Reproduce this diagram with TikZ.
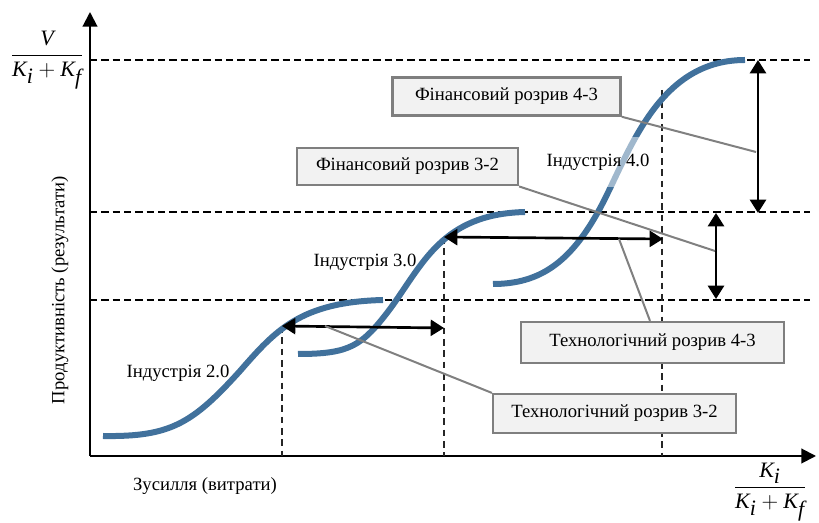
\documentclass[tikz,border=0pt]{standalone}
\usepackage{fontspec}
\setmainfont{Liberation Serif}
\usetikzlibrary{arrows.meta}

\definecolor{curveblue}{HTML}{41719C}
\definecolor{boxfill}{HTML}{F2F2F2}
\definecolor{boxline}{HTML}{7F7F7F}
\definecolor{leader}{HTML}{808080}

\tikzset{
  axis/.style={line width=1.5pt, -{Triangle[width=11pt,length=11pt]}},
  level/.style={line width=1.4pt, dash pattern=on 5.5pt off 3pt},
  drop/.style={line width=0.9pt, dash pattern=on 5pt off 3.5pt, black!85},
  scurve/.style={line width=4.5pt, curveblue},
  gap/.style={line width=2pt, {Triangle[width=12pt,length=10pt]}-{Triangle[width=12pt,length=10pt]}},
  leaderline/.style={line width=1.5pt, leader},
  callout/.style={draw=boxline, line width=1.9pt, fill=boxfill, inner sep=0pt,
    font=\fontsize{14}{16}\selectfont},
  curvelabel/.style={font=\fontsize{14}{16}\selectfont, inner sep=1pt},
  veil/.style={fill=white, fill opacity=0.5, text opacity=1, minimum height=37pt, inner xsep=2pt},
  plainlabel/.style={font=\fontsize{14}{16}\selectfont},
  frac/.style={font=\fontsize{16.5}{19}\selectfont, inner sep=0pt}
}

\begin{document}
\begin{tikzpicture}[x=0.75pt, y=-0.75pt]
\useasboundingbox (0,0) rectangle (819,523);

% axes
\coordinate (origin) at (90,456);
\coordinate (ytip) at (90,12);
\coordinate (xtip) at (816,456);
\draw[axis] (origin) -- (ytip);
\draw[axis] (origin) -- (xtip);

% productivity levels
\draw[level] (90,60) -- (810,60);
\draw[level] (90,212) -- (810,212);
\draw[level] (90,300) -- (810,300);

% points where the gaps start and end
\coordinate (p2) at (282,326);
\coordinate (p3) at (444,237);
\coordinate (p4) at (662,90);
\coordinate (q3) at (444,328);
\coordinate (q4) at (663,239);

% drop lines to the effort axis
\draw[drop] (p2) -- (282,456);
\draw[drop] (p3) -- (444,456);
\draw[drop] (p4) -- (662,456);

% S-curves of the three industries
\draw[scurve] (103,436) .. controls (170,437) and (192,424) .. (240,371)
  .. controls (275,331) and (300,302) .. (383,300);
\draw[scurve] (298,354) .. controls (350,354) and (362,346) .. (390,309)
  .. controls (423,264) and (442,214) .. (525,212);
\draw[scurve] (493,284) .. controls (540,284) and (570,262) .. (598,212)
  .. controls (628,158) and (655,60) .. (745,60);

% technological gaps
\draw[gap] (p2) -- (q3);
\draw[gap] (p3) -- (q4);

% financial gaps
\coordinate (f4top) at (758,60);
\coordinate (f4bot) at (758,213);
\coordinate (f3top) at (716,213);
\coordinate (f3bot) at (716,299);
\draw[gap] (f4top) -- (f4bot);
\draw[gap] (f3top) -- (f3bot);

% anchor points of the leader lines on the arrows
\coordinate (af43) at (756,152);
\coordinate (af32) at (715,251);
\coordinate (at43) at (619,239);
\coordinate (at32) at (325,326);

% callout boxes
\node[callout, minimum width=171pt, minimum height=28.5pt] (fin43) at (506.5,96.5) {Фінансовий розрив 4-3};
\node[callout, minimum width=165.5pt, minimum height=28pt] (fin32) at (407.5,166.5) {Фінансовий розрив 3-2};
\node[callout, minimum width=197pt, minimum height=30.5pt] (tech43) at (652.5,342.5) {Технологічний розрив 4-3};
\node[callout, minimum width=182pt, minimum height=29pt] (tech32) at (614.5,413.5) {Технологічний розрив 3-2};

% leader lines
\draw[leaderline] (fin43.south east) -- (af43);
\draw[leaderline] (fin32.south east) -- (af32);
\draw[leaderline] (at43) -- (tech43.north west -| 650,0);
\draw[leaderline] (at32) -- (tech32.north west);

% curve labels
\node[curvelabel] (ind2) at (178,373) {Індустрія 2.0};
\node[curvelabel] (ind3) at (365,262) {Індустрія 3.0};
\node[curvelabel, veil] (ind4) at (598,162) {Індустрія 4.0};

% axis captions
\node[plainlabel, rotate=90] (ycap) at (60,290) {Продуктивність (результати)};
\node[plainlabel] (xcap) at (205,486) {Зусилля (витрати)};
\node[frac] (yfrac) at (47,60) {$\displaystyle\frac{\textit{V}}{\textit{K}_{\textit{i}}+\textit{K}_{\textit{f}}}$};
\node[frac, anchor=south] (xfrac) at (770,521) {$\displaystyle\frac{\textit{K}_{\textit{i}}}{\textit{K}_{\textit{i}}+\textit{K}_{\textit{f}}}$};
\end{tikzpicture}
\end{document}
